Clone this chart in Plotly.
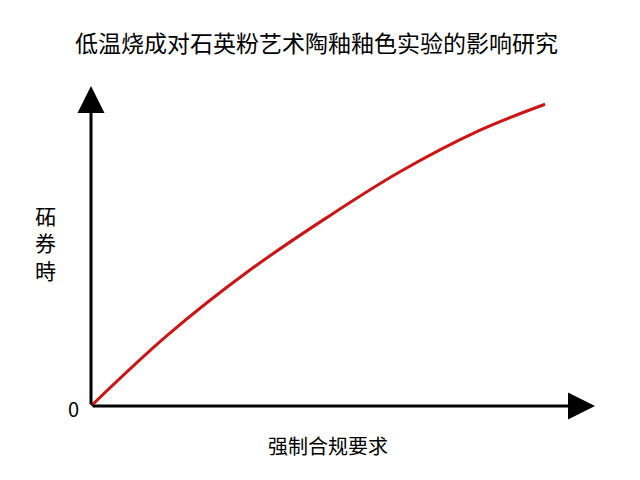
import plotly.graph_objects as go

title_text = "低温烧成对石英粉艺术陶釉釉色实验的影响研究"
x_label = "强制合规要求"
y_label_chars = ["砳", "券", "時"]
origin_label = "0"

curve_x = [0, 15.3, 31.2, 47.0, 61.3, 77.2, 90.1]
curve_y = [0, 22.3, 42.1, 59.1, 73.2, 86.2, 94.3]

FONT = "Noto Sans CJK SC, Noto Sans, sans-serif"

fig = go.Figure()
fig.add_trace(go.Scatter(
    x=curve_x, y=curve_y, mode="lines",
    line=dict(color="#CC1414", width=3, shape="spline", smoothing=1.0),
    hoverinfo="skip", showlegend=False, cliponaxis=False,
))

# axis arrows
fig.add_annotation(x=100, y=0, ax=0, ay=0, xref="x", yref="y", axref="x", ayref="y",
                   showarrow=True, arrowhead=2, arrowsize=1.8, arrowwidth=3,
                   arrowcolor="black", text="")
fig.add_annotation(x=0, y=100, ax=0, ay=0, xref="x", yref="y", axref="x", ayref="y",
                   showarrow=True, arrowhead=2, arrowsize=1.8, arrowwidth=3,
                   arrowcolor="black", text="")

fig.add_annotation(x=0.447, y=1.0, xref="paper", yref="paper", yshift=63,
                   text=title_text, showarrow=False,
                   font=dict(family=FONT, size=23, color="black"))
fig.add_annotation(x=0.47, y=0, xref="paper", yref="paper", yshift=-56,
                   text=x_label, showarrow=False,
                   font=dict(family=FONT, size=20, color="black"))
fig.add_annotation(x=0, y=0, xref="paper", yref="paper", xshift=-25, yshift=-19,
                   text=origin_label, showarrow=False,
                   font=dict(family=FONT, size=20, color="black"))
fig.add_annotation(x=0, y=0.51, xref="paper", yref="paper", xshift=-58,
                   text="<br>".join(y_label_chars), showarrow=False,
                   font=dict(family=FONT, size=21, color="black"))

fig.update_xaxes(range=[0, 100], visible=False, fixedrange=True)
fig.update_yaxes(range=[0, 100], visible=False, fixedrange=True)
fig.update_layout(
    width=640, height=480,
    margin=dict(l=83, r=53, t=78, b=82),
    plot_bgcolor="white", paper_bgcolor="white",
    showlegend=False,
)
fig.write_html("out.html")
